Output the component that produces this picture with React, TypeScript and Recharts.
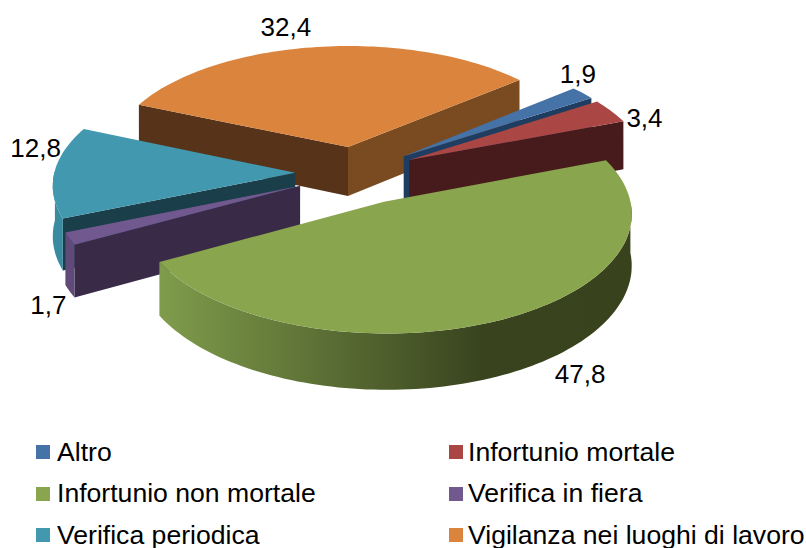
import { PieChart, Pie, Legend } from "recharts";

const categories = [
  "Altro",
  "Infortunio mortale",
  "Infortunio non mortale",
  "Verifica in fiera",
  "Verifica periodica",
  "Vigilanza nei luoghi di lavoro",
];
const shares = [1.9, 3.4, 47.8, 1.7, 12.8, 32.4];
const topColors = ["#4572A7", "#AA4643", "#89A54E", "#71588F", "#4198AF", "#DB843D"];
// wall shades: start edge, end edge, rim
const startWalls = ["#1f3d60", "#471b1c", "#3a441f", "#392a47", "#1a3f4b", "#57331a"];
const endWalls = ["#1f3d60", "#471b1c", "#3a441f", "#392a47", "#1a3f4b", "#7a4b21"];
const rimColors = ["#2f5580", "#7a2f2e", "url(#greenRim)", "#5f4a7a", "#3a8aa0", "#a8652e"];
const explodes = [0.25, 0.25, 0.27, 0.255, 0.252, 0.235];
// painted back to front, a pie per layer
const paintLayers = [[5], [4], [3], [0, 1, 2]];
const labelShift = [
  [2, -21],
  [41, 5],
  [88, 62],
  [-32, 69],
  [-29, -24],
  [-32, -22],
];

const sliceData = categories.map((name, i) => ({ name, value: shares[i] }));

const CX = 356;
const CY = 173;
const RADIUS = 241;
const TILT = 0.475;
const PERSPECTIVE = 0.09;
const DEPTH = 50;
const START = 40;

const rad = (deg: number) => (deg * Math.PI) / 180;

function project(u: number, v: number, drop: number, cx: number, cy: number, r: number) {
  const s = 1 / (1 - PERSPECTIVE * v);
  return [cx + r * u * s, cy + r * TILT * v * s + drop * DEPTH * s];
}

function toPath(pts: number[][]) {
  return "M" + pts.map((p) => `${p[0].toFixed(1)},${p[1].toFixed(1)}`).join("L") + "Z";
}

function SliceShape(props: any, layer: number[]) {
  const idx = categories.indexOf(props.name ?? props.payload?.name);
  if (!layer.includes(idx)) return <g />;
  const { cx, cy, outerRadius: r, startAngle: a1, endAngle: a2 } = props;
  const mid = rad((a1 + a2) / 2);
  const ox = explodes[idx] * Math.cos(mid);
  const oy = -explodes[idx] * Math.sin(mid);
  const at = (deg: number, radial: number, drop: number) =>
    project(ox + radial * Math.cos(rad(deg)), oy - radial * Math.sin(rad(deg)), drop, cx, cy, r);

  const steps = Math.max(2, Math.ceil(Math.abs(a1 - a2) / 1.5));
  const angles = Array.from({ length: steps + 1 }, (_, i) => a1 + ((a2 - a1) * i) / steps);
  const top = [at(a1, 0, 0), ...angles.map((a) => at(a, 1, 0))];
  const front = angles.filter((a) => Math.sin(rad(a)) < 0.02);
  const rim = [
    ...front.map((a) => at(a, 1, 0)),
    ...[...front].reverse().map((a) => at(a, 1, 1)),
  ];
  const wall = (a: number) => [at(a, 0, 0), at(a, 1, 0), at(a, 1, 1), at(a, 0, 1)];
  const startSeen = Math.sin(rad(a1 + 90)) < 0;
  const endSeen = Math.sin(rad(a2 - 90)) < 0;

  return (
    <g>
      {startSeen && <path d={toPath(wall(a1))} fill={startWalls[idx]} />}
      {endSeen && <path d={toPath(wall(a2))} fill={endWalls[idx]} />}
      {front.length > 1 && <path d={toPath(rim)} fill={rimColors[idx]} />}
      <path d={toPath(top)} fill={topColors[idx]} />
    </g>
  );
}

function renderLabel(props: any) {
  const idx = categories.indexOf(props.name ?? props.payload?.name);
  const { cx, cy, outerRadius: r, midAngle } = props;
  const m = rad(midAngle);
  const [x, y] = project(1.21 * Math.cos(m), -1.21 * Math.sin(m), 0, cx, cy, r);
  return (
    <text
      x={x + labelShift[idx][0]}
      y={y + labelShift[idx][1]}
      textAnchor="middle"
      dominantBaseline="central"
      fontSize={26}
      fontFamily="Liberation Sans"
      fill="#000"
    >
      {shares[idx].toFixed(1).replace(".", ",")}
    </text>
  );
}

function renderLegend() {
  return (
    <div style={{ position: "relative", width: 806, height: 110, fontFamily: "Liberation Sans", fontSize: 26.6 }}>
      {categories.map((name, i) => (
        <div
          key={name}
          style={{
            position: "absolute",
            left: i % 2 === 0 ? 36 : 449,
            top: Math.floor(i / 2) * 41.5,
            height: 30,
            display: "flex",
            alignItems: "center",
            whiteSpace: "nowrap",
            color: "#000",
          }}
        >
          <span style={{ width: 14, height: 14, background: topColors[i], marginRight: i % 2 === 0 ? 7 : 5 }} />
          {name}
        </div>
      ))}
    </div>
  );
}

export default function App() {
  return (
    <div style={{ position: "absolute", left: 0, top: 0, width: 806, height: 548, background: "#fff" }}>
      <PieChart width={806} height={548} margin={{ top: 0, right: 0, bottom: 0, left: 0 }}>
        <defs>
          <linearGradient id="greenRim" x1="0" y1="0" x2="1" y2="0">
            <stop offset="0" stopColor="#7f9c4b" />
            <stop offset="0.68" stopColor="#39441f" />
            <stop offset="1" stopColor="#38431d" />
          </linearGradient>
        </defs>
        {paintLayers.map((layer, i) => (
          <Pie
            key={i}
            data={sliceData}
            dataKey="value"
            nameKey="name"
            cx={CX}
            cy={CY}
            innerRadius={0}
            outerRadius={RADIUS}
            startAngle={START}
            endAngle={START - 360}
            paddingAngle={0}
            stroke="none"
            legendType="none"
            isAnimationActive={false}
            shape={(p: any) => SliceShape(p, layer)}
            label={i === paintLayers.length - 1 ? renderLabel : false}
            labelLine={false}
          />
        ))}
        <Legend
          content={renderLegend}
          layout="horizontal"
          verticalAlign="bottom"
          wrapperStyle={{ left: 0, top: 437, width: 806 }}
        />
      </PieChart>
    </div>
  );
}
